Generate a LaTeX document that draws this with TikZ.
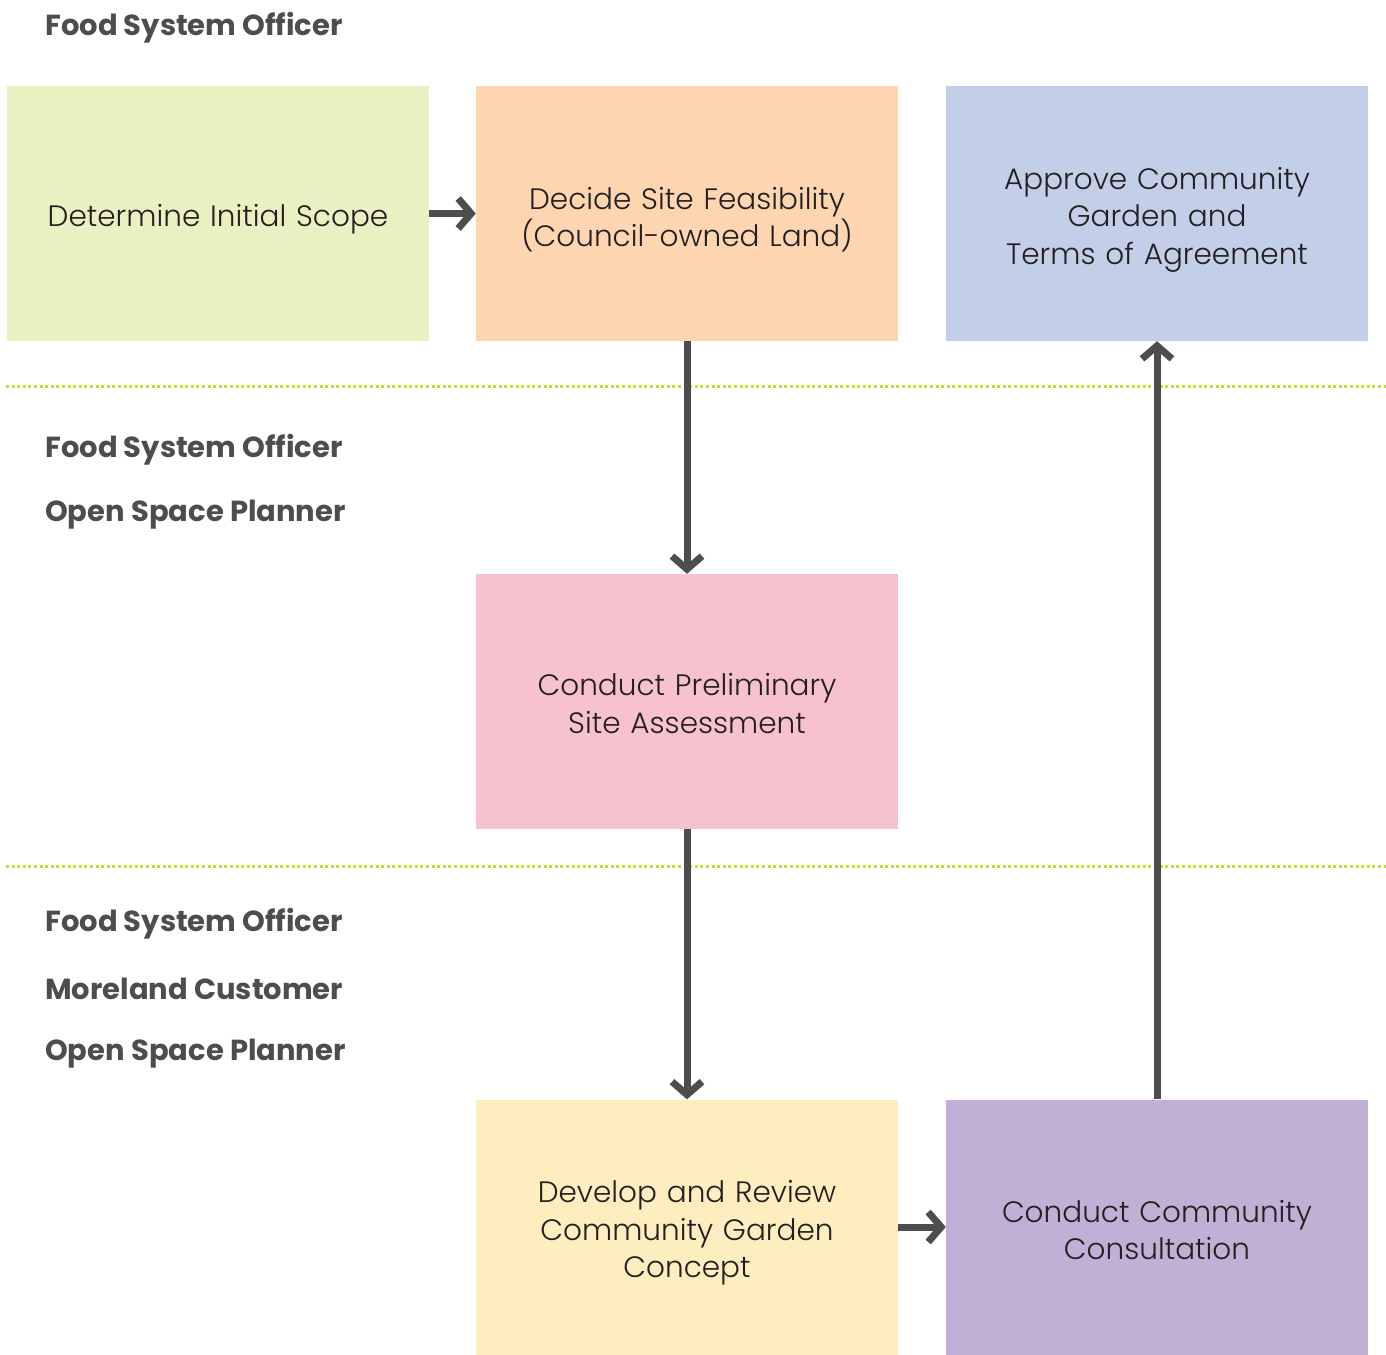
\documentclass[tikz,border=0pt]{standalone}
\usepackage{fontspec}
\setmainfont{Poppins}
\newfontfamily\boxfont{Poppins Light}
\usetikzlibrary{arrows.meta}
\definecolor{cgreen}{HTML}{EBF0C3}
\definecolor{corange}{HTML}{FDD5B1}
\definecolor{cblue}{HTML}{C3CEE8}
\definecolor{cpink}{HTML}{F7C1CF}
\definecolor{cyellow}{HTML}{FEEDBE}
\definecolor{cpurple}{HTML}{C2AFD5}
\definecolor{cline}{HTML}{C7DD2E}
\definecolor{carrow}{HTML}{4D4D4D}
\definecolor{ctext}{HTML}{231F20}
\tikzset{
  stepbox/.style={draw=none, minimum width=422pt, minimum height=255pt, inner sep=0pt},
  boxtext/.style={inner sep=0pt, text width=410pt, align=center, text=ctext, yshift=-6pt,
    font=\boxfont\fontsize{29.5pt}{37.5pt}\selectfont},
  role/.style={anchor=west, text=carrow, inner sep=0pt,
    font=\bfseries\fontsize{29pt}{32pt}\selectfont},
  flow/.style={draw=carrow, line width=7pt,
    -{Straight Barb[length=13pt,width=30pt,line width=7pt]}},
  lane/.style={draw=cline, line width=3pt, dash pattern=on 3pt off 2.6pt}
}
\begin{document}
\begin{tikzpicture}[x=1pt,y=-1pt]
\useasboundingbox (0,0) rectangle (1386,1354);
\node[stepbox, fill=cgreen, label={[boxtext]center:Determine Initial Scope}] (scope) at (218,213.5) {};
\node[stepbox, fill=corange, label={[boxtext]center:Decide Site Feasibility\\(Council-owned Land)}] (feas) at (687,213.5) {};
\node[stepbox, fill=cblue, label={[boxtext]center:Approve Community\\Garden and\\Terms of Agreement}] (appr) at (1157,213.5) {};
\node[stepbox, fill=cpink, label={[boxtext,yshift=4pt]center:Conduct Preliminary\\Site Assessment}] (assess) at (687,701.5) {};
\node[stepbox, fill=cyellow, label={[boxtext]center:Develop and Review\\Community Garden\\Concept}] (dev) at (687,1227) {};
\node[stepbox, fill=cpurple, label={[boxtext,yshift=3pt]center:Conduct Community\\Consultation}] (cons) at (1157,1227) {};
\coordinate (l1a) at (6,386);
\coordinate (l1b) at (1386,386);
\coordinate (l2a) at (6,866);
\coordinate (l2b) at (1386,866);
\draw[lane] (l1a) -- (l1b);
\draw[lane] (l2a) -- (l2b);
\node[role] (r1) at (45,28) {Food System Officer};
\node[role] (r2) at (45,450) {Food System Officer};
\node[role] (r3) at (45,515) {Open Space Planner};
\node[role] (r4) at (45,924) {Food System Officer};
\node[role] (r5) at (45,989) {Moreland Customer};
\node[role] (r6) at (45,1054) {Open Space Planner};
\draw[flow] (scope.east) -- (feas.west);
\draw[flow] (feas.south) -- (assess.north);
\draw[flow] (assess.south) -- (dev.north);
\draw[flow] (dev.east) -- (cons.west);
\draw[flow] (cons.north) -- (appr.south);
\end{tikzpicture}
\end{document}
